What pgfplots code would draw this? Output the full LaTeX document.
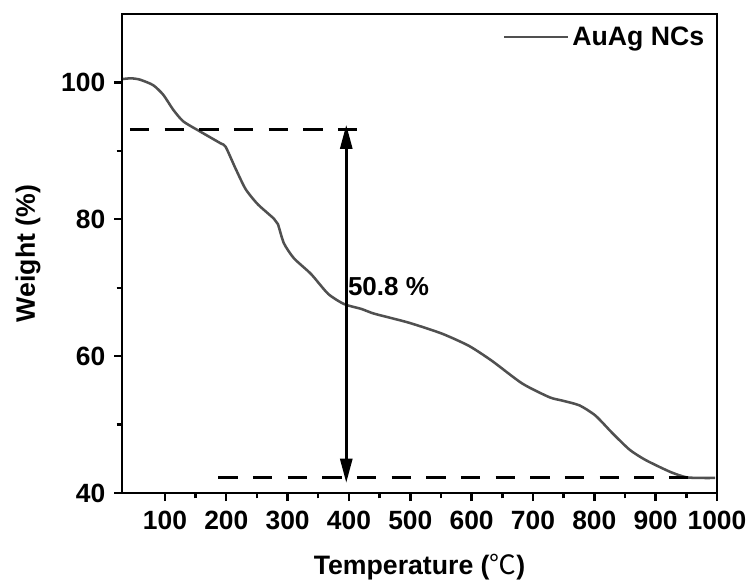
\documentclass[border=0pt]{standalone}
\usepackage{fontspec}
\setmainfont{Liberation Sans}
\newfontfamily\cjk{Noto Sans CJK SC}
\usepackage{pgfplots}
\pgfplotsset{compat=1.18}
\usetikzlibrary{arrows.meta,calc}
\definecolor{curvegray}{HTML}{505050}

\begin{document}
\begin{tikzpicture}
\begin{axis}[
    width=446.25pt, height=359.25pt, scale only axis,
    xmin=30, xmax=1000, ymin=40, ymax=110,
    xtick={100,200,...,1000}, ytick={40,60,80,100},
    minor x tick num=1, minor y tick num=1,
    tick align=outside, xtick pos=bottom, ytick pos=left,
    major tick length=6pt, minor tick length=4pt,
    axis line style={line width=2.2pt},
    every tick/.style={line width=1.8pt, black},
    /pgf/number format/assume math mode=true,
    /pgf/number format/1000 sep={},
    tick label style={font=\bfseries\fontsize{19.8}{21}\selectfont},
    xticklabel style={yshift=-4pt},
    yticklabel style={xshift=-3pt},
    label style={font=\bfseries\fontsize{20}{22}\selectfont},
    xlabel={Temperature ({\cjk\mdseries ℃})},
    ylabel={Weight (\%)},
    xlabel style={at={(axis description cs:0.5,-0.1545)}, anchor=center},
    ylabel style={at={(axis description cs:-0.158,0.5)}, anchor=center},
    legend style={at={(axis description cs:0.99,0.985)}, anchor=north east,
        draw=none, fill=none, font=\bfseries\fontsize{20}{22}\selectfont},
    legend image code/.code={\draw[#1, line width=2pt] (0pt,0pt) -- (48pt,0pt);},
]
% TGA curve
\addplot[curvegray, line width=1.9pt, smooth, tension=0.4] coordinates {
    (31.6,100.5) (45,100.6) (59.5,100.4) (80.8,99.6) (97.2,98.2) (113.6,96.0)
    (130,94.3) (157.9,92.8) (190.7,91.1) (198.9,90.6) (215.2,87.4) (231.6,84.4)
    (251.3,82.2) (277.5,80.1) (284.1,79.3) (293.9,76.5) (310.3,74.3) (338.2,72.0)
    (366.1,69.1) (392.3,67.6) (420.2,66.9) (441.5,66.2) (497.2,64.9) (551.3,63.3)
    (595.6,61.5) (633.3,59.3) (682.5,56.0) (726.7,54.0) (748,53.5) (775.9,52.8)
    (802,51.3) (830,48.7) (857.9,46.3) (884,44.8) (923.4,43.1) (949.7,42.3)
    (975,42.2) (997,42.2)
};
\addlegendentry{AuAg NCs}
% reference dashed lines
\addplot[black, line width=2.2pt, dash pattern=on 14.5pt off 11.5pt, forget plot]
    coordinates {(43,93.1) (423,93.1)};
\addplot[black, line width=2.2pt, dash pattern=on 14.5pt off 11.5pt, forget plot]
    coordinates {(187,42.2) (977,42.2)};
% double arrow
\addplot[black, line width=2pt, {Triangle[length=18pt,width=9pt]}-{Triangle[length=18pt,width=9pt]}, forget plot]
    coordinates {(395.6,41.5) (395.6,93.8)};
\node[anchor=west, inner sep=0pt, font=\bfseries\fontsize{19.5}{21}\selectfont]
    at (axis cs:398,70.1) {50.8 \%};
\end{axis}
\pgfresetboundingbox
\path ($(current axis.south west)+(-91.5pt,-69pt)$) rectangle ($(current axis.north east)+(26.25pt,10.5pt)$);
\end{tikzpicture}
\end{document}
